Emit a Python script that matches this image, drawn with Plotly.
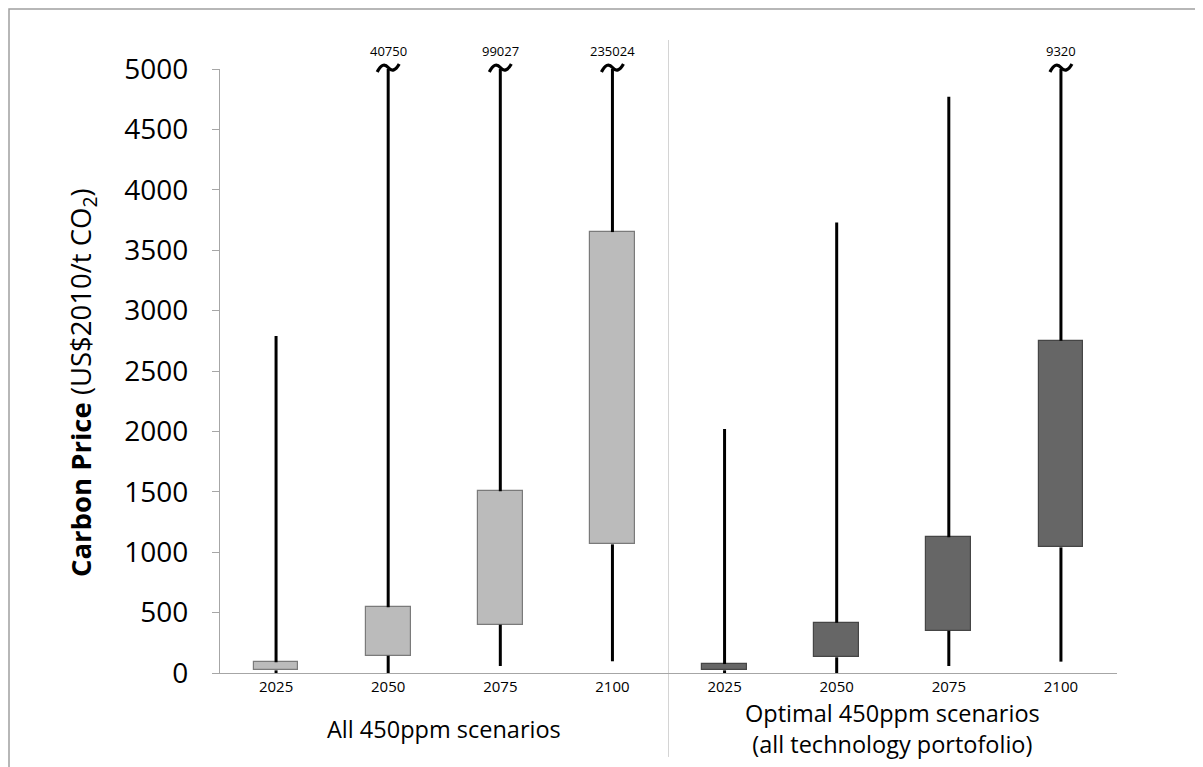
import plotly.graph_objects as go

# ---- data ----
years = ["2025", "2050", "2075", "2100"]
group_labels = ["All 450ppm scenarios", "Optimal 450ppm scenarios<br>(all technology portofolio)"]

all_min = [0, 0, 58, 97]
all_q1 = [22, 143, 400, 1065]
all_q3 = [89, 544, 1505, 3650]
all_max = [2790, 40750, 99027, 235024]

opt_min = [0, 0, 58, 94]
opt_q1 = [22, 130, 350, 1040]
opt_q3 = [74, 416, 1123, 2750]
opt_max = [2020, 3730, 4770, 9320]

y_max = 5000
y_ticks = list(range(0, 5001, 500))

groups = [
    dict(mins=all_min, q1=all_q1, q3=all_q3, maxs=all_max, fill="#BBBBBB", edge="#7A7A7A"),
    dict(mins=opt_min, q1=opt_q1, q3=opt_q3, maxs=opt_max, fill="#666666", edge="#454545"),
]

W, H = 1195, 759
ML, MR, MT, MB = 212, 86, 61, 94
PW, PH = W - ML - MR, H - MT - MB

fig = go.Figure()

tick_vals, tick_text = [], []
annotations = []
shapes = []
for g_i, g in enumerate(groups):
    xs = [g_i * len(years) + k for k in range(len(years))]
    tick_vals += xs
    tick_text += years
    wx, wy = [], []
    for x, lo, q1, q3, hi in zip(xs, g["mins"], g["q1"], g["q3"], g["maxs"]):
        top = min(hi, y_max)
        wx += [x, x, None, x, x, None]
        wy += [lo, q1, None, q3, top, None]
        if hi > y_max:
            # break mark (tilde) in pixel units, anchored at the top of the axis (paper y=1)
            shapes.append(dict(type="path", xref="x", yref="paper", xsizemode="pixel", ysizemode="pixel",
                               xanchor=x, yanchor=1,
                               path="M-11,-3 Q-5.5,8 0,1.5 T11,5",
                               line=dict(color="black", width=3.2)))
            annotations.append(dict(x=x, y=y_max, xref="x", yref="y", text=str(hi), showarrow=False,
                                    font=dict(family="Open Sans", size=13, color="black"),
                                    xanchor="center", yanchor="middle", yshift=18))
    fig.add_trace(go.Scatter(x=wx, y=wy, mode="lines", line=dict(color="black", width=3),
                             hoverinfo="skip", showlegend=False))
    fig.add_trace(go.Bar(x=xs, base=g["q1"], y=[b - a for a, b in zip(g["q1"], g["q3"])],
                         width=0.4, marker=dict(color=g["fill"], line=dict(color=g["edge"], width=1.2)),
                         showlegend=False))
    annotations.append(dict(x=(xs[0] + xs[-1]) / 2, y=-0.092, xref="x", yref="paper",
                            text=group_labels[g_i], showarrow=False,
                            font=dict(family="Open Sans", size=23.5, color="black"),
                            xanchor="center", yanchor="middle"))

# y-axis title
annotations.append(dict(x=0, y=0.48, xref="paper", yref="paper", xshift=-138,
                        text="<b>Carbon Price</b> (US$2010/t CO<sub>2</sub>)", textangle=-90,
                        showarrow=False, font=dict(family="Open Sans", size=27.5, color="black"),
                        xanchor="center", yanchor="middle"))

shapes += [
    # outer frame (top and left edges visible)
    dict(type="rect", xref="paper", yref="paper", x0=(-ML + 1) / PW, x1=1.2, y0=-0.3,
         y1=1 + (MT - 1) / PH, line=dict(color="#A0A0A0", width=1.5), layer="below"),
    # divider between groups
    dict(type="line", xref="x", yref="paper", x0=3.5, x1=3.5, y0=-0.139, y1=1.048,
         line=dict(color="#D4D4D4", width=1), layer="below"),
]

fig.update_layout(
    width=W, height=H,
    margin=dict(l=ML, r=MR, t=MT, b=MB),
    paper_bgcolor="white", plot_bgcolor="white",
    barmode="overlay", bargap=0,
    annotations=annotations, shapes=shapes,
    showlegend=False,
)
fig.update_xaxes(range=[-0.5, 7.5], tickvals=tick_vals, ticktext=tick_text,
                 showline=True, linecolor="#A6A6A6", linewidth=1.2, showgrid=False, zeroline=False,
                 ticks="", tickfont=dict(family="Open Sans", size=15, color="black"))
fig.update_yaxes(range=[0, y_max], tickvals=y_ticks, showline=True, linecolor="#A6A6A6", linewidth=1.2,
                 ticks="outside", ticklen=7, tickcolor="#A6A6A6", tickwidth=1.2,
                 showgrid=False, zeroline=False, ticklabelstandoff=18,
                 tickfont=dict(family="Open Sans", size=28, color="black"))

fig.write_html("out.html")
